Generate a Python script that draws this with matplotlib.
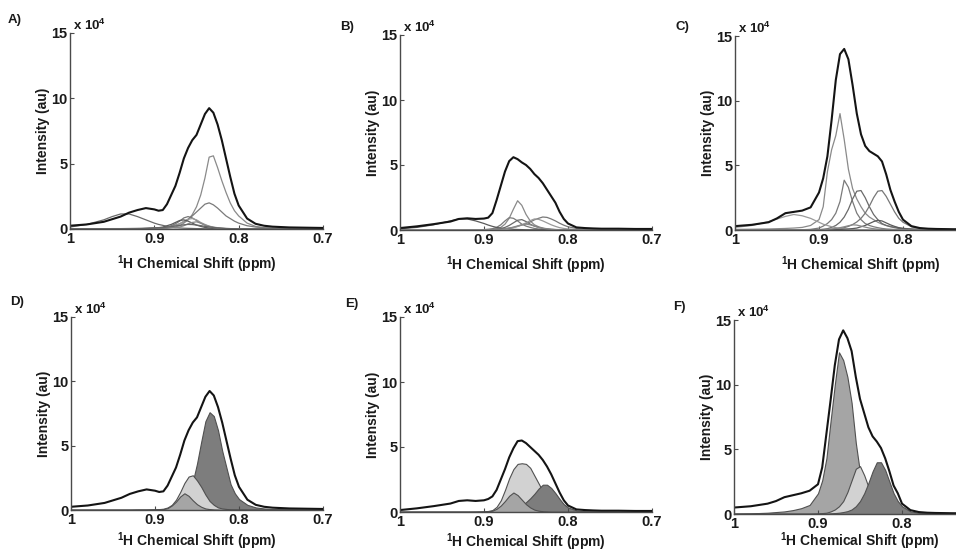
import matplotlib
matplotlib.use('Agg')
import matplotlib.pyplot as plt

plt.rcParams['font.family'] = ['Liberation Sans', 'DejaVu Sans']
plt.rcParams['font.weight'] = 'bold'
plt.rcParams['mathtext.fontset'] = 'custom'
plt.rcParams['mathtext.rm'] = 'Liberation Sans:bold'
plt.rcParams['mathtext.bf'] = 'Liberation Sans:bold'

# chemical shift grid (ppm) shared by every trace
shift_ppm = [1.00, 0.98, 0.96, 0.95, 0.94, 0.93, 0.92, 0.91, 0.90, 0.895,
             0.89, 0.885, 0.88, 0.875, 0.87, 0.865, 0.86, 0.855, 0.85, 0.845,
             0.84, 0.835, 0.83, 0.825, 0.82, 0.815, 0.81, 0.805, 0.80, 0.79,
             0.78, 0.77, 0.76, 0.74, 0.72, 0.70]

# measured spectra, intensity in units of 1e4 au
a_spectrum = [0.25, 0.35, 0.55, 0.75, 0.95, 1.25, 1.45, 1.6, 1.5, 1.4,
              1.45, 1.9, 2.6, 3.3, 4.3, 5.4, 6.2, 6.8, 7.2, 8.0,
              8.8, 9.25, 8.9, 8.0, 6.8, 5.4, 4.0, 2.7, 1.8, 0.8,
              0.4, 0.25, 0.18, 0.12, 0.1, 0.08]
b_spectrum = [0.15, 0.28, 0.45, 0.55, 0.65, 0.85, 0.9, 0.85, 0.88, 0.95,
              1.3, 2.3, 3.4, 4.5, 5.3, 5.6, 5.45, 5.2, 5.0, 4.7,
              4.3, 4.0, 3.6, 3.1, 2.6, 2.1, 1.4, 0.85, 0.5, 0.2,
              0.15, 0.12, 0.1, 0.1, 0.08, 0.08]
c_spectrum = [0.3, 0.4, 0.6, 0.9, 1.3, 1.4, 1.5, 1.75, 2.9, 4.0,
              5.7, 8.5, 11.6, 13.6, 14.0, 13.2, 11.2, 9.0, 7.4, 6.5,
              6.1, 5.9, 5.7, 5.3, 4.3, 3.1, 2.2, 1.4, 0.8, 0.3,
              0.15, 0.1, 0.08, 0.06, 0.06, 0.06]
d_spectrum = a_spectrum
e_spectrum = [0.15, 0.28, 0.45, 0.55, 0.65, 0.85, 0.9, 0.85, 0.9, 1.0,
              1.2, 1.7, 2.5, 3.3, 4.2, 4.9, 5.45, 5.5, 5.3, 5.0,
              4.7, 4.4, 4.0, 3.5, 2.9, 2.2, 1.5, 0.9, 0.5, 0.2,
              0.15, 0.12, 0.1, 0.1, 0.08, 0.08]
f_spectrum = [0.5, 0.6, 0.8, 1.0, 1.3, 1.45, 1.6, 1.8, 2.3, 3.6,
              6.2, 8.8, 11.5, 13.5, 14.2, 13.6, 12.6, 10.6, 8.9, 7.8,
              6.7, 6.0, 5.6, 5.1, 4.3, 3.3, 2.2, 1.6, 0.8, 0.3,
              0.15, 0.1, 0.08, 0.06, 0.05, 0.05]

# fitted components, panels A-C (drawn as lines)
a_fits = [
    [0.02, 0.02, 0.02, 0.02, 0.02, 0.02, 0.03, 0.04, 0.05, 0.06,
     0.08, 0.1, 0.12, 0.16, 0.25, 0.45, 0.7, 1.1, 1.7, 2.6,
     3.9, 5.5, 5.6, 4.7, 3.7, 2.8, 2.0, 1.4, 1.0, 0.45,
     0.2, 0.1, 0.06, 0.03, 0.02, 0.02],
    [0.02, 0.02, 0.02, 0.03, 0.03, 0.04, 0.05, 0.06, 0.08, 0.09,
     0.1, 0.15, 0.2, 0.3, 0.4, 0.55, 0.75, 1.0, 1.3, 1.6,
     1.9, 2.0, 1.85, 1.6, 1.3, 1.0, 0.8, 0.6, 0.45, 0.25,
     0.15, 0.1, 0.06, 0.03, 0.02, 0.02],
    [0.15, 0.35, 0.7, 0.95, 1.15, 1.15, 0.95, 0.7, 0.45, 0.35,
     0.28, 0.2, 0.15, 0.1, 0.08, 0.06, 0.05, 0.04, 0.03, 0.03,
     0.02, 0.02, 0.02, 0.02, 0.02, 0.02, 0.02, 0.02, 0.02, 0.02,
     0.02, 0.02, 0.02, 0.02, 0.02, 0.02],
    [0.01, 0.01, 0.01, 0.01, 0.01, 0.01, 0.01, 0.02, 0.05, 0.07,
     0.1, 0.15, 0.25, 0.4, 0.6, 0.85, 0.95, 0.85, 0.65, 0.45,
     0.3, 0.2, 0.12, 0.08, 0.05, 0.03, 0.02, 0.02, 0.01, 0.01,
     0.01, 0.01, 0.01, 0.01, 0.01, 0.01],
    [0.01, 0.01, 0.01, 0.01, 0.01, 0.01, 0.01, 0.01, 0.03, 0.05,
     0.07, 0.1, 0.15, 0.25, 0.4, 0.6, 0.75, 0.8, 0.7, 0.5,
     0.35, 0.22, 0.15, 0.1, 0.06, 0.04, 0.03, 0.02, 0.01, 0.01,
     0.01, 0.01, 0.01, 0.01, 0.01, 0.01],
    [0.01, 0.01, 0.01, 0.01, 0.01, 0.01, 0.01, 0.04, 0.07, 0.1,
     0.15, 0.25, 0.35, 0.5, 0.65, 0.7, 0.6, 0.45, 0.3, 0.2,
     0.12, 0.08, 0.05, 0.03, 0.02, 0.01, 0.01, 0.01, 0.01, 0.01,
     0.01, 0.01, 0.01, 0.01, 0.01, 0.01],
    [0.01, 0.01, 0.01, 0.01, 0.01, 0.01, 0.01, 0.01, 0.01, 0.01,
     0.03, 0.05, 0.08, 0.1, 0.15, 0.25, 0.4, 0.5, 0.55, 0.45,
     0.3, 0.2, 0.1, 0.06, 0.04, 0.02, 0.01, 0.01, 0.01, 0.01,
     0.01, 0.01, 0.01, 0.01, 0.01, 0.01],
    [0.01, 0.01, 0.01, 0.01, 0.01, 0.01, 0.02, 0.04, 0.07, 0.09,
     0.1, 0.14, 0.18, 0.23, 0.28, 0.32, 0.35, 0.34, 0.3, 0.26,
     0.2, 0.16, 0.12, 0.09, 0.06, 0.04, 0.03, 0.02, 0.01, 0.01,
     0.01, 0.01, 0.01, 0.01, 0.01, 0.01],
]
b_fits = [
    [0.02, 0.02, 0.02, 0.02, 0.02, 0.02, 0.02, 0.02, 0.02, 0.02,
     0.05, 0.1, 0.2, 0.45, 0.9, 1.6, 2.25, 1.9, 1.2, 0.7,
     0.4, 0.25, 0.15, 0.1, 0.06, 0.04, 0.03, 0.02, 0.02, 0.02,
     0.02, 0.02, 0.02, 0.02, 0.02, 0.02],
    [0.01, 0.01, 0.01, 0.01, 0.01, 0.01, 0.01, 0.01, 0.03, 0.06,
     0.1, 0.2, 0.4, 0.7, 0.95, 0.9, 0.7, 0.45, 0.3, 0.2,
     0.12, 0.08, 0.05, 0.03, 0.02, 0.01, 0.01, 0.01, 0.01, 0.01,
     0.01, 0.01, 0.01, 0.01, 0.01, 0.01],
    [0.01, 0.01, 0.01, 0.01, 0.01, 0.01, 0.01, 0.01, 0.01, 0.01,
     0.03, 0.05, 0.1, 0.2, 0.35, 0.55, 0.75, 0.8, 0.65, 0.45,
     0.3, 0.2, 0.12, 0.07, 0.04, 0.03, 0.02, 0.01, 0.01, 0.01,
     0.01, 0.01, 0.01, 0.01, 0.01, 0.01],
    [0.01, 0.01, 0.01, 0.01, 0.01, 0.01, 0.01, 0.01, 0.02, 0.02,
     0.03, 0.05, 0.07, 0.1, 0.15, 0.2, 0.28, 0.38, 0.5, 0.62,
     0.78, 0.9, 1.0, 0.97, 0.85, 0.7, 0.52, 0.37, 0.25, 0.12,
     0.06, 0.03, 0.02, 0.01, 0.01, 0.01],
    [0.01, 0.01, 0.01, 0.01, 0.01, 0.01, 0.01, 0.01, 0.01, 0.01,
     0.02, 0.03, 0.05, 0.08, 0.12, 0.18, 0.27, 0.4, 0.55, 0.72,
     0.85, 0.82, 0.7, 0.55, 0.4, 0.28, 0.18, 0.12, 0.08, 0.04,
     0.02, 0.01, 0.01, 0.01, 0.01, 0.01],
    [0.1, 0.2, 0.4, 0.55, 0.7, 0.85, 0.85, 0.7, 0.5, 0.38,
     0.28, 0.2, 0.14, 0.1, 0.07, 0.05, 0.04, 0.03, 0.02, 0.02,
     0.02, 0.02, 0.02, 0.02, 0.02, 0.02, 0.02, 0.02, 0.02, 0.02,
     0.02, 0.02, 0.02, 0.02, 0.02, 0.02],
    [0.01, 0.01, 0.01, 0.01, 0.01, 0.01, 0.01, 0.01, 0.01, 0.01,
     0.02, 0.04, 0.06, 0.1, 0.15, 0.22, 0.32, 0.4, 0.45, 0.4,
     0.3, 0.2, 0.13, 0.08, 0.05, 0.03, 0.02, 0.01, 0.01, 0.01,
     0.01, 0.01, 0.01, 0.01, 0.01, 0.01],
]
c_fits = [
    [0.05, 0.06, 0.08, 0.1, 0.12, 0.15, 0.2, 0.35, 0.8, 1.8,
     4.5, 6.2, 7.3, 9.0, 7.0, 4.7, 3.2, 2.4, 1.8, 1.3,
     1.0, 0.8, 0.6, 0.45, 0.35, 0.28, 0.22, 0.17, 0.13, 0.08,
     0.06, 0.05, 0.04, 0.03, 0.03, 0.03],
    [0.02, 0.02, 0.02, 0.02, 0.02, 0.02, 0.02, 0.05, 0.15, 0.3,
     0.5, 0.8, 1.3, 2.2, 3.85, 3.3, 2.2, 1.3, 0.8, 0.5,
     0.35, 0.25, 0.18, 0.12, 0.08, 0.06, 0.04, 0.03, 0.03, 0.02,
     0.02, 0.02, 0.02, 0.02, 0.02, 0.02],
    [0.01, 0.01, 0.01, 0.01, 0.01, 0.01, 0.01, 0.01, 0.03, 0.06,
     0.1, 0.2, 0.35, 0.6, 1.0, 1.6, 2.4, 3.0, 3.05, 2.5,
     1.8, 1.2, 0.8, 0.5, 0.35, 0.25, 0.18, 0.12, 0.09, 0.05,
     0.03, 0.02, 0.02, 0.01, 0.01, 0.01],
    [0.01, 0.01, 0.01, 0.01, 0.01, 0.01, 0.01, 0.01, 0.01, 0.01,
     0.03, 0.05, 0.08, 0.12, 0.18, 0.28, 0.42, 0.62, 0.9, 1.3,
     1.85, 2.5, 3.0, 3.05, 2.6, 2.0, 1.4, 0.9, 0.6, 0.25,
     0.12, 0.07, 0.05, 0.03, 0.02, 0.02],
    [0.2, 0.35, 0.65, 0.85, 1.05, 1.2, 1.1, 0.9, 0.6, 0.45,
     0.35, 0.25, 0.18, 0.12, 0.08, 0.06, 0.05, 0.04, 0.03, 0.03,
     0.02, 0.02, 0.02, 0.02, 0.02, 0.02, 0.02, 0.02, 0.02, 0.02,
     0.02, 0.02, 0.02, 0.02, 0.02, 0.02],
    [0.01, 0.01, 0.01, 0.01, 0.01, 0.01, 0.01, 0.01, 0.01, 0.01,
     0.01, 0.02, 0.03, 0.04, 0.06, 0.08, 0.11, 0.15, 0.25, 0.35,
     0.5, 0.65, 0.75, 0.7, 0.55, 0.4, 0.28, 0.18, 0.12, 0.06,
     0.03, 0.02, 0.01, 0.01, 0.01, 0.01],
    [0.01, 0.01, 0.01, 0.01, 0.01, 0.01, 0.01, 0.01, 0.01, 0.01,
     0.05, 0.08, 0.12, 0.18, 0.25, 0.33, 0.4, 0.38, 0.3, 0.22,
     0.15, 0.1, 0.07, 0.05, 0.03, 0.02, 0.01, 0.01, 0.01, 0.01,
     0.01, 0.01, 0.01, 0.01, 0.01, 0.01],
]

# selected components, panels D-F (drawn as filled areas, back to front)
d_fills = [
    [0.02, 0.02, 0.02, 0.02, 0.02, 0.02, 0.03, 0.03, 0.04, 0.05,
     0.06, 0.08, 0.1, 0.15, 0.25, 0.5, 1.0, 2.2, 3.6, 5.3,
     6.9, 7.6, 7.3, 6.2, 4.6, 3.3, 2.0, 1.3, 0.85, 0.4,
     0.2, 0.12, 0.08, 0.05, 0.04, 0.04],
    [0.02, 0.02, 0.02, 0.02, 0.02, 0.02, 0.03, 0.03, 0.05, 0.07,
     0.1, 0.2, 0.4, 0.8, 1.4, 2.1, 2.6, 2.7, 2.3, 1.8,
     1.2, 0.7, 0.4, 0.2, 0.12, 0.08, 0.05, 0.04, 0.03, 0.02,
     0.02, 0.02, 0.02, 0.02, 0.02, 0.02],
    [0.02, 0.02, 0.02, 0.02, 0.02, 0.02, 0.02, 0.02, 0.03, 0.04,
     0.07, 0.15, 0.35, 0.65, 1.05, 1.3, 1.1, 0.75, 0.45, 0.25,
     0.12, 0.07, 0.04, 0.03, 0.02, 0.02, 0.02, 0.02, 0.02, 0.02,
     0.02, 0.02, 0.02, 0.02, 0.02, 0.02],
]
e_fills = [
    [0.02, 0.02, 0.02, 0.02, 0.02, 0.02, 0.02, 0.03, 0.05, 0.08,
     0.15, 0.4, 0.9, 1.7, 2.6, 3.3, 3.7, 3.75, 3.7, 3.4,
     2.8, 2.2, 1.6, 1.1, 0.6, 0.3, 0.15, 0.08, 0.05, 0.03,
     0.02, 0.02, 0.02, 0.02, 0.02, 0.02],
    [0.02, 0.02, 0.02, 0.02, 0.02, 0.02, 0.02, 0.02, 0.02, 0.02,
     0.02, 0.03, 0.05, 0.08, 0.12, 0.2, 0.3, 0.5, 0.75, 1.05,
     1.4, 1.8, 2.1, 2.1, 1.85, 1.45, 1.0, 0.6, 0.35, 0.12,
     0.06, 0.04, 0.03, 0.02, 0.02, 0.02],
    [0.02, 0.02, 0.02, 0.02, 0.02, 0.02, 0.02, 0.02, 0.03, 0.05,
     0.1, 0.25, 0.5, 0.85, 1.25, 1.5, 1.3, 0.95, 0.6, 0.35,
     0.18, 0.1, 0.06, 0.04, 0.02, 0.02, 0.02, 0.02, 0.02, 0.02,
     0.02, 0.02, 0.02, 0.02, 0.02, 0.02],
]
f_fills = [
    [0.03, 0.05, 0.1, 0.15, 0.2, 0.3, 0.45, 0.7, 1.6, 2.6,
     4.3, 7.2, 10.0, 12.5, 11.9, 10.6, 8.6, 5.5, 3.2, 1.8,
     1.0, 0.6, 0.4, 0.28, 0.2, 0.15, 0.1, 0.08, 0.06, 0.04,
     0.03, 0.03, 0.03, 0.03, 0.03, 0.03],
    [0.02, 0.02, 0.02, 0.02, 0.02, 0.02, 0.02, 0.02, 0.05, 0.07,
     0.1, 0.2, 0.35, 0.6, 1.0, 1.7, 2.6, 3.5, 3.7, 3.0,
     2.1, 1.3, 0.75, 0.45, 0.25, 0.15, 0.1, 0.06, 0.04, 0.03,
     0.02, 0.02, 0.02, 0.02, 0.02, 0.02],
    [0.02, 0.02, 0.02, 0.02, 0.02, 0.02, 0.02, 0.02, 0.02, 0.02,
     0.03, 0.05, 0.07, 0.1, 0.15, 0.22, 0.35, 0.6, 1.0, 1.6,
     2.4, 3.3, 4.0, 4.0, 3.4, 2.5, 1.6, 1.0, 0.6, 0.2,
     0.1, 0.06, 0.04, 0.03, 0.02, 0.02],
]

x_ticks = [1.0, 0.9, 0.8, 0.7]
x_tick_labels = ['1', '0.9', '0.8', '0.7']
y_ticks = [0, 5, 10, 15]

W, H = 956, 554
line_greys = ['#8a8a8a', '#7a7a7a', '#6a6a6a', '#777777', '#9a9a9a', '#5a5a5a', '#888888', '#666666']
fill_greys = {'dark': '#7d7d7d', 'mid': '#a5a5a5', 'light': '#d2d2d2'}


def px_rect(left, right, top, bottom):
    # pixel box -> figure fraction [l, b, w, h]
    return [left / W, (H - bottom) / H, (right - left) / W, (bottom - top) / H]


def draw_panel(fig, box, tag, tag_xy, spectrum, fits=(), fills=(), fill_cols=(),
               n_ticks=4, xlabel_y=-0.125):
    ax = fig.add_axes(px_rect(*box))
    for i, fit in enumerate(fits):
        ax.plot(shift_ppm, fit, color=line_greys[i % len(line_greys)], lw=0.9)
    for fill, col in zip(fills, fill_cols):
        ax.fill_between(shift_ppm, 0, fill, facecolor=fill_greys[col],
                        edgecolor='#505050', lw=0.8)
    ax.plot(shift_ppm, spectrum, color='#141414', lw=1.5)

    ax.set_xlim(1.0, 0.7)
    ax.set_ylim(0, 15)
    # right-hand panels run off the page, so 0.7 is never shown there
    ax.set_xticks(x_ticks[:n_ticks])
    ax.set_xticklabels(x_tick_labels[:n_ticks])
    ax.set_yticks(y_ticks)
    for side in ['top', 'right']:
        ax.spines[side].set_visible(False)
    for side in ['left', 'bottom']:
        ax.spines[side].set_color('#4a4a4a')
        ax.spines[side].set_linewidth(1.0)
    ax.tick_params(direction='in', length=3, width=0.8, colors='#4a4a4a',
                   labelcolor='#1a1a1a', labelsize=10.5, pad=2)
    ax.set_xlabel(r'$^{\mathbf{1}}$H Chemical Shift (ppm)', fontsize=10,
                  fontweight='bold', color='#1a1a1a')
    ax.set_ylabel('Intensity (au)', fontsize=10, fontweight='bold', color='#1a1a1a')
    ax.xaxis.set_label_coords(0.5, xlabel_y)
    ax.yaxis.set_label_coords(-0.078, 0.5)
    ax.text(0.01, 1.0, r'x 10$^{\mathbf{4}}$', transform=ax.transAxes,
            fontsize=9.5, fontweight='bold', color='#1a1a1a', va='bottom', ha='left')
    fig.text(tag_xy[0] / W, 1 - tag_xy[1] / H, tag, fontsize=9.5,
             fontweight='bold', color='#1a1a1a', va='center', ha='left')
    return ax


fig = plt.figure(figsize=(W / 100, H / 100), dpi=100)

draw_panel(fig, (70, 323, 33, 229), 'A)', (8, 20), a_spectrum, fits=a_fits)
draw_panel(fig, (400, 652, 35, 230), 'B)', (340, 27), b_spectrum, fits=b_fits)
draw_panel(fig, (735, 987, 36, 230), 'C)', (675, 27), c_spectrum, fits=c_fits, n_ticks=3)
draw_panel(fig, (71, 323, 317, 510), 'D)', (10, 302), d_spectrum,
           fills=d_fills, fill_cols=['dark', 'light', 'mid'], xlabel_y=-0.105)
draw_panel(fig, (400, 652, 317, 512), 'E)', (345, 304), e_spectrum,
           fills=e_fills, fill_cols=['light', 'dark', 'mid'], xlabel_y=-0.1)
draw_panel(fig, (734, 986, 320, 514), 'F)', (673, 307), f_spectrum,
           fills=f_fills, fill_cols=['mid', 'light', 'dark'], n_ticks=3, xlabel_y=-0.085)

fig.savefig('out.png', dpi=100, facecolor='white')
